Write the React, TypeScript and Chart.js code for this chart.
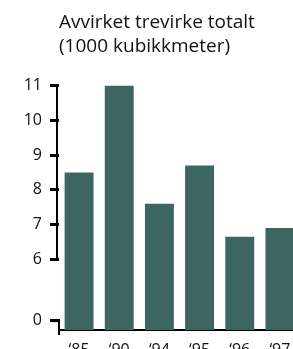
import React, { useEffect, useRef } from "react";
import { Chart, registerables } from "chart.js";
Chart.register(...registerables);

const categories = ["\u201885", "\u201890", "\u201894", "\u201895", "\u201896", "\u201897"];
const values = [8.5, 11.0, 7.6, 8.7, 6.65, 6.9];
const tickValues = [0, 6, 7, 8, 9, 10, 11];
const titleLines = ["Avvirket trevirke totalt", "(1000 kubikkmeter)"];

// broken axis: values from 6 upward are drawn to scale, 0..6 is compressed
const BREAK = 6;
const ZERO_POS = 0.27;
const BREAK_POS = 2.03;
const toAxis = (v: number) =>
  v >= BREAK ? BREAK_POS + (v - BREAK) : ZERO_POS + (v / BREAK) * (BREAK_POS - ZERO_POS);

const FONT = "'Open Sans', 'Liberation Sans', sans-serif";

const brokenAxis = {
  id: "brokenAxis",
  afterDraw(chart: any) {
    const { ctx, chartArea } = chart;
    const y = chart.scales.y;
    const x = chartArea.left - 2;
    ctx.save();
    ctx.strokeStyle = "#000";
    ctx.lineWidth = 2;
    ctx.beginPath();
    ctx.moveTo(x, y.getPixelForValue(toAxis(tickValues[tickValues.length - 1])) - 1.5);
    ctx.lineTo(x, y.getPixelForValue(toAxis(BREAK)) + 1.5);
    ctx.stroke();
    const y0 = y.getPixelForValue(toAxis(0));
    ctx.beginPath();
    ctx.moveTo(x + 2, y0 - 1.5);
    ctx.lineTo(x + 2, chartArea.bottom + 5);
    ctx.stroke();
    ctx.lineWidth = 3;
    ctx.beginPath();
    ctx.moveTo(x - 6, y0);
    ctx.lineTo(x + 3, y0);
    ctx.stroke();
    ctx.restore();
  },
};

export default function App() {
  const ref = useRef<HTMLCanvasElement>(null);
  useEffect(() => {
    if (!ref.current) return;
    const chart = new Chart(ref.current, {
      type: "bar",
      data: {
        labels: categories,
        datasets: [
          {
            data: values.map(toAxis),
            backgroundColor: "#3E6661",
            barPercentage: 0.72,
            categoryPercentage: 1,
          },
        ],
      },
      options: {
        responsive: false,
        animation: false,
        layout: { padding: { left: 0, right: 0, top: 0, bottom: 0 } },
        plugins: {
          legend: { display: false },
          tooltip: { enabled: false },
          title: {
            display: true,
            text: titleLines,
            align: "start",
            fullSize: false,
            color: "#111",
            font: { family: FONT, size: 19, weight: "normal", lineHeight: "24px" } as any,
            padding: { top: 11, bottom: 26.5 },
          },
        },
        scales: {
          x: {
            grid: { display: false },
            border: { display: true, color: "#000", width: 2 },
            ticks: { color: "#111", font: { family: FONT, size: 16 }, padding: 3 },
            afterFit: (scale: any) => {
              scale.height = 30;
            },
          },
          y: {
            min: 0,
            max: toAxis(tickValues[tickValues.length - 1]),
            afterBuildTicks: (scale: any) => {
              scale.ticks = tickValues.map((v) => ({ value: toAxis(v) }));
            },
            afterFit: (scale: any) => {
              scale.width = 59;
            },
            border: { display: false },
            grid: {
              drawOnChartArea: false,
              drawTicks: true,
              tickLength: 9,
              lineWidth: 3,
              color: "#000",
              tickColor: "#000",
            },
            ticks: {
              color: "#111",
              font: { family: FONT, size: 16 },
              padding: 8,
              callback: (_v: any, i: number) => String(tickValues[i]),
            },
          },
        },
      },
      plugins: [brokenAxis],
    });
    return () => chart.destroy();
  }, []);
  return (
    <div
      style={{
        position: "fixed",
        left: 0,
        top: 0,
        width: 293,
        height: 349,
        overflow: "hidden",
        background: "#fff",
      }}
    >
      <canvas ref={ref} width={300} height={360} style={{ display: "block" }} />
    </div>
  );
}
